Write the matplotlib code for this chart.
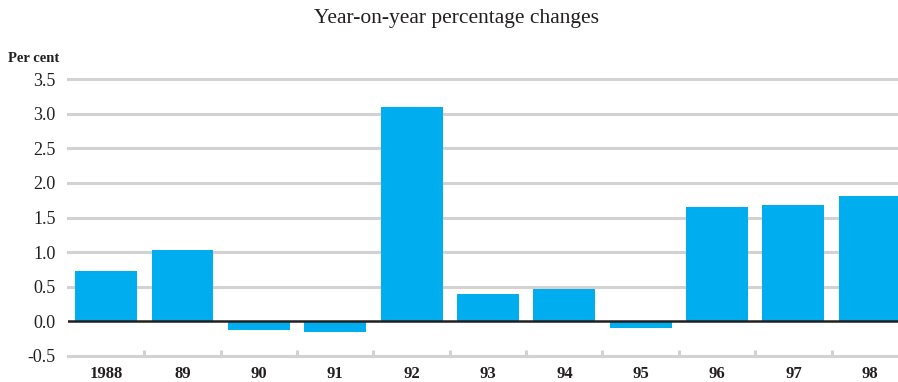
import matplotlib
matplotlib.use("Agg")
import matplotlib.pyplot as plt
import numpy as np

years = ["1988", "89", "90", "91", "92", "93", "94", "95", "96", "97", "98"]
changes = [0.73, 1.03, -0.12, -0.15, 3.09, 0.39, 0.47, -0.10, 1.65, 1.68, 1.81]
y_ticks = [-0.5, 0.0, 0.5, 1.0, 1.5, 2.0, 2.5, 3.0, 3.5]

plt.rcParams["font.family"] = ["Liberation Serif", "DejaVu Serif"]

bar_color = "#00AEEF"
grid_color = "#d2d2d2"
text_color = "#231f20"

fig = plt.figure(figsize=(8.98, 3.82), dpi=100)
ax = fig.add_axes([68 / 898, 26 / 382, 1 - 68 / 898, (356 - 79) / 382])

x = np.arange(len(years))
ax.set_xlim(-0.5, 10.37)
ax.set_ylim(-0.5, 3.5)

# horizontal gridlines (zero line drawn separately in dark)
for v in y_ticks:
    if v == 0:
        continue
    ax.axhline(v, color=grid_color, lw=2.2, zorder=0, clip_on=False)

ax.bar(x, changes, width=0.81, color=bar_color, zorder=2)
ax.axhline(0, color=text_color, lw=1.8, zorder=3)

# small category separators standing on the bottom line
for b in np.arange(0.5, len(years) - 0.5, 1.0):
    ax.plot([b, b], [-0.5, -0.42], color=grid_color, lw=2.2, zorder=1,
            solid_capstyle="butt")

for s in ax.spines.values():
    s.set_visible(False)

ax.set_yticks(y_ticks)
ax.set_yticklabels([f"{v:.1f}" for v in y_ticks], fontsize=13, color=text_color)
ax.tick_params(axis="y", length=0, pad=9)

ax.set_xticks(x)
ax.set_xticklabels(years, fontsize=12, fontweight="bold", color=text_color)
ax.tick_params(axis="x", length=0, pad=7)

fig.text(456 / 898, 1 - 18 / 382, "Year-on-year percentage changes",
         ha="center", va="center", fontsize=15.5, color=text_color)
fig.text(8 / 898, 1 - 58 / 382, "Per cent", ha="left", va="center",
         fontsize=10.5, fontweight="bold", color=text_color)

fig.savefig("out.png", dpi=100)
